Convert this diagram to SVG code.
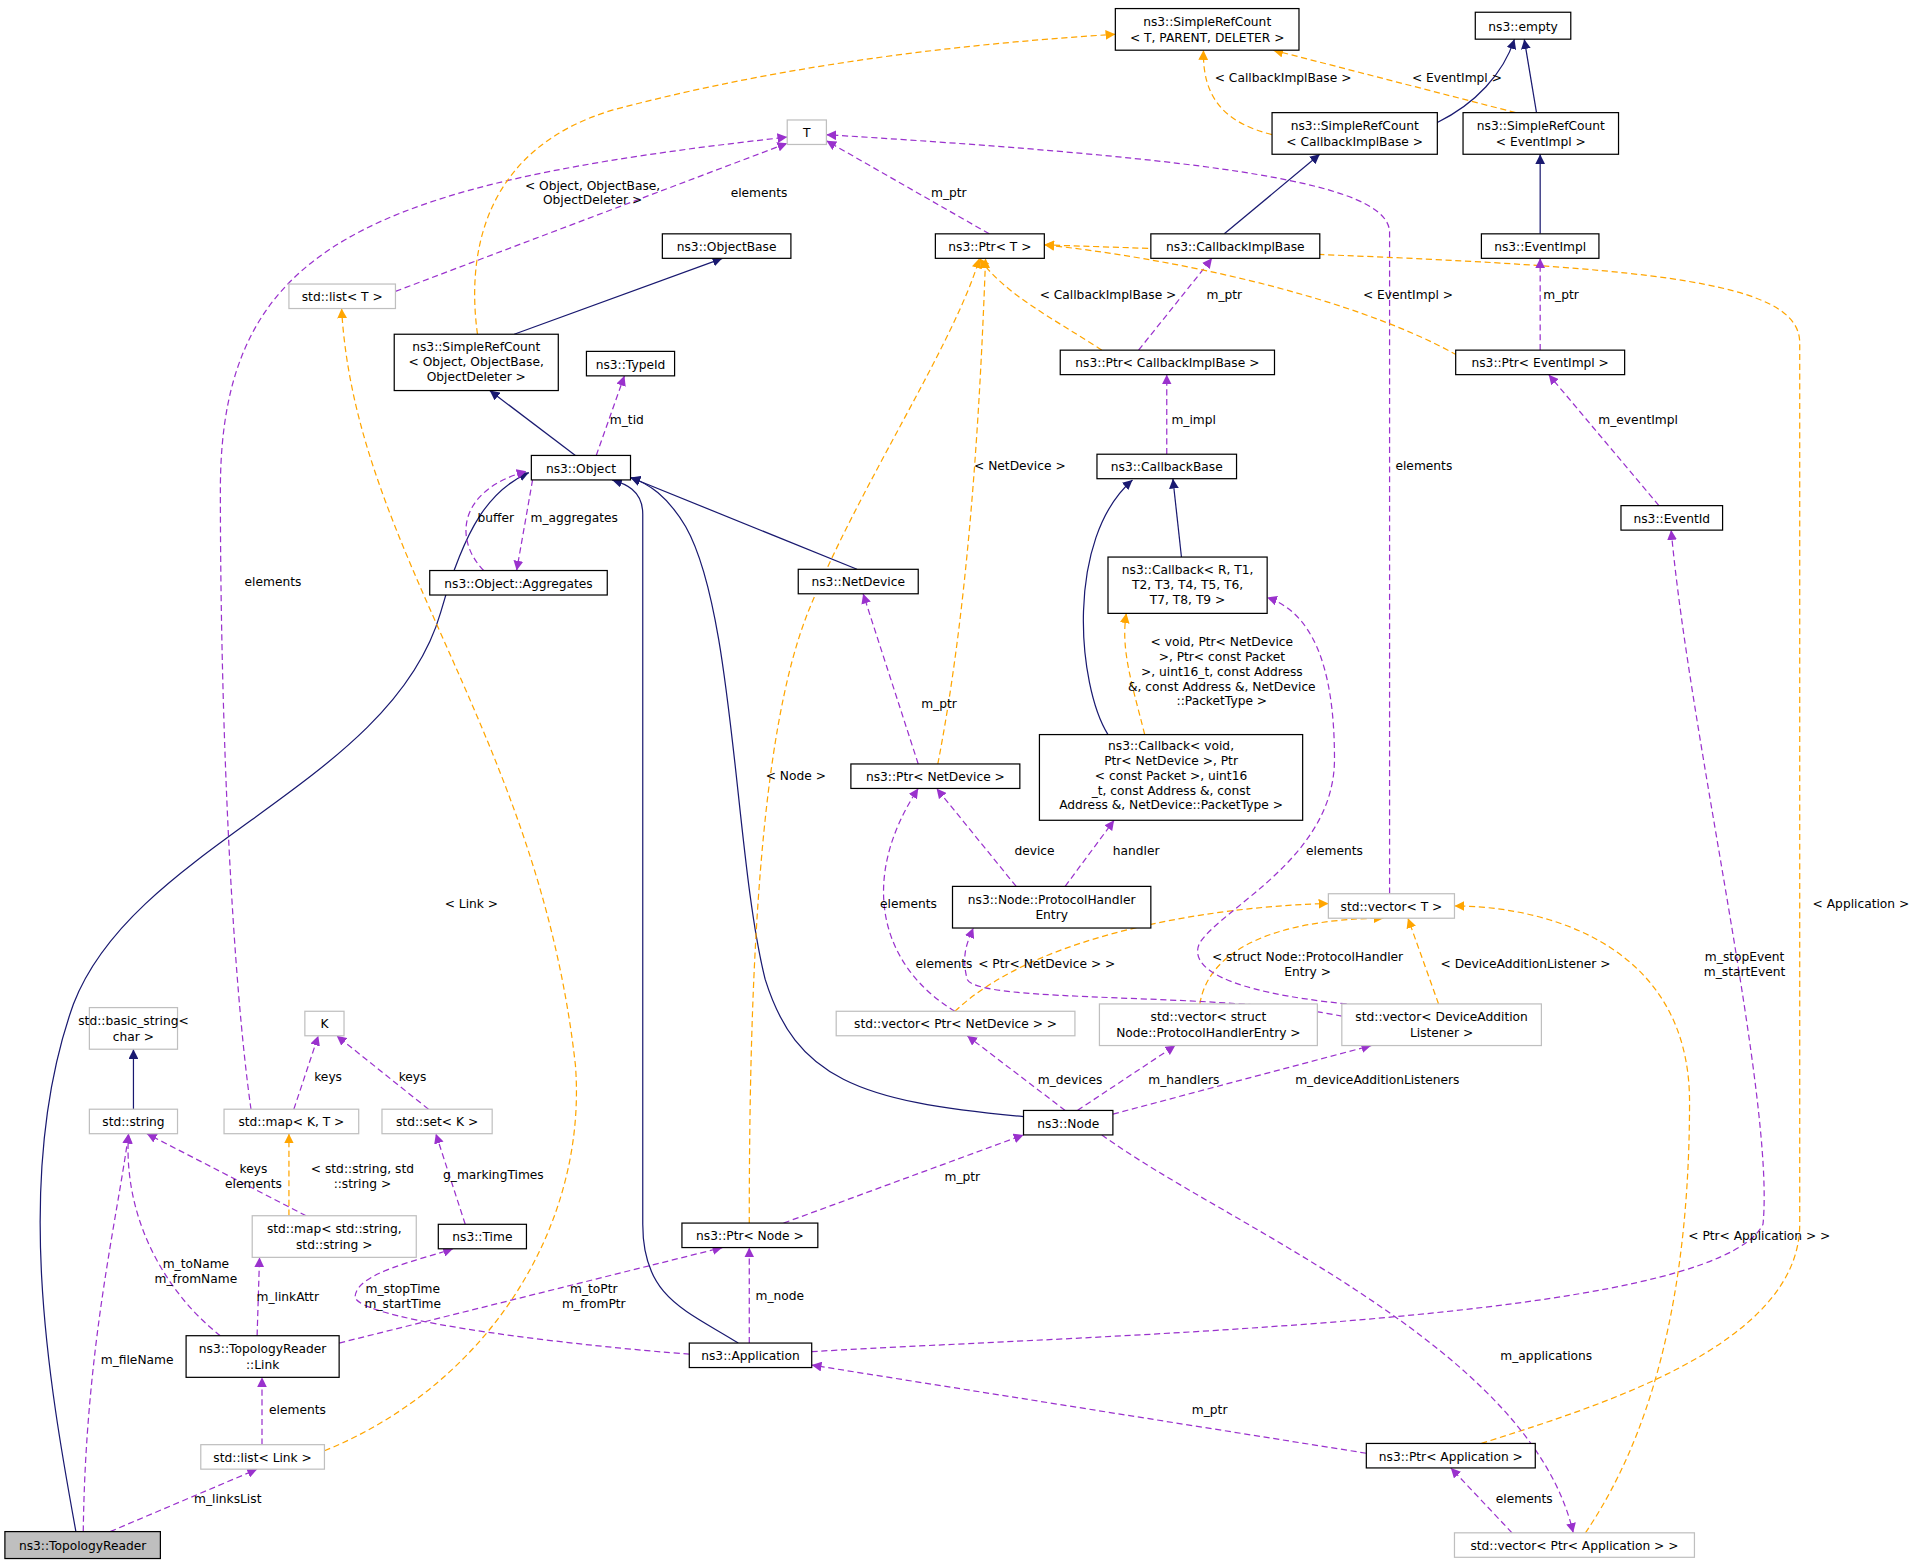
<svg xmlns="http://www.w3.org/2000/svg" width="1916" height="1563" viewBox="0 0 1916 1563">
<defs>
<marker id="an" viewBox="0 0 10 10" refX="10" refY="5" markerWidth="8" markerHeight="8" orient="auto-start-reverse" markerUnits="userSpaceOnUse"><path d="M0,0 L10,5 L0,10 z" fill="#191970"/></marker>
<marker id="ap" viewBox="0 0 10 10" refX="10" refY="5" markerWidth="8" markerHeight="8" orient="auto-start-reverse" markerUnits="userSpaceOnUse"><path d="M0,0 L10,5 L0,10 z" fill="#9a32cd"/></marker>
<marker id="ao" viewBox="0 0 10 10" refX="10" refY="5" markerWidth="8" markerHeight="8" orient="auto-start-reverse" markerUnits="userSpaceOnUse"><path d="M0,0 L10,5 L0,10 z" fill="#ffa500"/></marker>
</defs>
<style>
text{font-family:"DejaVu Sans","Liberation Sans",sans-serif;font-size:10px;fill:#000}
.nb rect{fill:#fff;stroke:#000;stroke-width:1}
.ng rect{fill:#fff;stroke:#bfbfbf;stroke-width:1}
.nt text{text-anchor:middle}
.n{fill:none;stroke:#191970;stroke-width:1;marker-end:url(#an)}
.p{fill:none;stroke:#9a32cd;stroke-width:1;stroke-dasharray:5,3;marker-end:url(#ap)}
.o{fill:none;stroke:#ffa500;stroke-width:1;stroke-dasharray:5,3;marker-end:url(#ao)}
.l text{text-anchor:middle}
</style>
<rect width="1916" height="1563" fill="#fff"/>
<g transform="scale(1.2243)">
<g id="edges">
<path class="n" d="M62,1251 C40,1130 10,960 60,820 C110,690 320,640 360,500 C380,430 400,400 432,386"/>
<path class="p" d="M68,1251 C70,1100 95,1000 105,926"/>
<path class="p" d="M90,1251 L210,1200"/>
<path class="p" d="M214,1180 L214,1125"/>
<path class="o" d="M265,1185 C400,1130 480,1000 470,870 C440,600 290,450 279,252"/>
<path class="p" d="M180,1091 C140,1060 100,1000 105,926"/>
<path class="p" d="M210,1091 L212,1027"/>
<path class="p" d="M277,1097 L590,1019"/>
<path class="o" d="M236,993 L236,926"/>
<path class="p" d="M250,993 L120,926"/>
<path class="n" d="M109,906 L109,857"/>
<path class="p" d="M240,906 L260,846"/>
<path class="p" d="M205,906 C190,800 180,600 180,400 C180,200 300,150 643,112"/>
<path class="p" d="M350,906 L275,846"/>
<path class="p" d="M563,1106 C480,1100 300,1080 290,1060 C290,1040 340,1030 370,1020"/>
<path class="p" d="M380,1000 L356,926"/>
<path class="n" d="M603,1097 C560,1070 525,1060 525,1000 L525,420 C525,400 510,395 500,392"/>
<path class="p" d="M612,1097 L612,1019"/>
<path class="p" d="M663,1104 C900,1090 1400,1080 1440,1000 C1450,900 1380,600 1365,433"/>
<path class="p" d="M1116,1187 L663,1115"/>
<path class="o" d="M1210,1179 C1300,1150 1470,1100 1470,1000 L1470,280 C1470,220 1300,215 853,200"/>
<path class="p" d="M1235,1252 L1185,1199"/>
<path class="o" d="M1295,1252 C1330,1200 1380,1100 1380,900 C1380,770 1260,740 1188,740"/>
<path class="p" d="M900,927 C1000,1000 1250,1100 1285,1252"/>
<path class="n" d="M836,912 C700,900 650,880 625,800 C600,700 600,500 560,430 C545,405 530,395 515,390"/>
<path class="p" d="M870,907 L790,846"/>
<path class="p" d="M880,907 L960,854"/>
<path class="p" d="M909,910 L1120,854"/>
<path class="p" d="M640,999 L836,927"/>
<path class="o" d="M612,999 C612,800 620,600 660,500 C700,400 780,280 800,211"/>
<path class="p" d="M780,826 C720,790 700,720 750,644"/>
<path class="o" d="M780,826 C850,760 1000,740 1085,738"/>
<path class="o" d="M980,820 C990,760 1080,750 1130,750"/>
<path class="o" d="M1175,820 L1150,750"/>
<path class="p" d="M1096,830 C1000,810 800,820 790,800 C785,780 790,770 795,758"/>
<path class="p" d="M1100,820 C1000,810 970,790 980,770 C1000,740 1090,700 1090,620 C1090,540 1070,500 1035,488"/>
<path class="p" d="M1135,730 L1135,190 C1135,150 1000,130 675,110"/>
<path class="p" d="M830,724 L765,644"/>
<path class="p" d="M870,724 L910,670"/>
<path class="o" d="M935,600 C925,560 915,530 920,501"/>
<path class="n" d="M905,600 C880,560 870,440 925,392"/>
<path class="n" d="M965,455 L958,391"/>
<path class="p" d="M953,371 L953,306"/>
<path class="p" d="M930,286 L990,211"/>
<path class="o" d="M900,286 C860,260 820,240 800,211"/>
<path class="n" d="M1000,191 L1078,126"/>
<path class="p" d="M1258,286 L1258,211"/>
<path class="o" d="M1190,290 C1100,240 950,210 853,200"/>
<path class="p" d="M1355,413 L1265,306"/>
<path class="n" d="M1258,191 L1258,126"/>
<path class="n" d="M1174,100 C1205,85 1228,60 1237,32"/>
<path class="n" d="M1255,92 L1245,32"/>
<path class="o" d="M1039,110 C1000,100 982,80 983,41"/>
<path class="o" d="M1238,92 L1040,41"/>
<path class="o" d="M390,273 C380,200 400,120 500,90 C650,50 800,35 911,28"/>
<path class="p" d="M808,191 L675,115"/>
<path class="p" d="M323,238 L643,117"/>
<path class="n" d="M470,372 L400,319"/>
<path class="p" d="M487,372 L510,307"/>
<path class="p" d="M435,392 L422,466"/>
<path class="p" d="M395,466 C370,440 375,400 430,385"/>
<path class="n" d="M700,465 L515,390"/>
<path class="p" d="M750,624 L705,485"/>
<path class="o" d="M766,624 C790,500 800,350 805,211"/>
<path class="n" d="M420,273 L590,211"/>
</g>
<g id="labels" class="l">
<text x="112" y="1114">m_fileName</text>
<text x="186" y="1228">m_linksList</text>
<text x="243" y="1155">elements</text>
<text x="385" y="742">&lt; Link &gt;</text>
<text x="160" y="1036">m_toName</text><text x="160" y="1048">m_fromName</text>
<text x="235" y="1063">m_linkAttr</text>
<text x="485" y="1056">m_toPtr</text><text x="485" y="1068">m_fromPtr</text>
<text x="296" y="958">&lt; std::string, std</text><text x="296" y="970">::string &gt;</text>
<text x="207" y="958">keys</text><text x="207" y="970">elements</text>
<text x="268" y="883">keys</text>
<text x="223" y="479">elements</text>
<text x="337" y="883">keys</text>
<text x="403" y="963">g_markingTimes</text>
<text x="329" y="1056">m_stopTime</text><text x="329" y="1068">m_startTime</text>
<text x="637" y="1062">m_node</text>
<text x="1425" y="785">m_stopEvent</text><text x="1425" y="797">m_startEvent</text>
<text x="988" y="1155">m_ptr</text>
<text x="1520" y="742">&lt; Application &gt;</text>
<text x="1245" y="1228">elements</text>
<text x="1437" y="1013">&lt; Ptr&lt; Application &gt; &gt;</text>
<text x="1263" y="1111">m_applications</text>
<text x="874" y="885">m_devices</text>
<text x="967" y="885">m_handlers</text>
<text x="1125" y="885">m_deviceAdditionListeners</text>
<text x="786" y="965">m_ptr</text>
<text x="650" y="637">&lt; Node &gt;</text>
<text x="742" y="742">elements</text>
<text x="855" y="791">&lt; Ptr&lt; NetDevice &gt; &gt;</text>
<text x="1068" y="785">&lt; struct Node::ProtocolHandler</text><text x="1068" y="797">Entry &gt;</text>
<text x="1246" y="791">&lt; DeviceAdditionListener &gt;</text>
<text x="771" y="791">elements</text>
<text x="1090" y="698">elements</text>
<text x="1163" y="384">elements</text>
<text x="845" y="698">device</text>
<text x="928" y="698">handler</text>
<text x="998" y="528">&lt; void, Ptr&lt; NetDevice</text><text x="998" y="540">&gt;, Ptr&lt; const Packet</text><text x="998" y="552">&gt;, uint16_t, const Address</text><text x="998" y="564">&amp;, const Address &amp;, NetDevice</text><text x="998" y="576">::PacketType &gt;</text>
<text x="975" y="346">m_impl</text>
<text x="1000" y="244">m_ptr</text>
<text x="905" y="244">&lt; CallbackImplBase &gt;</text>
<text x="1275" y="244">m_ptr</text>
<text x="1150" y="244">&lt; EventImpl &gt;</text>
<text x="1338" y="346">m_eventImpl</text>
<text x="1048" y="67">&lt; CallbackImplBase &gt;</text>
<text x="1190" y="67">&lt; EventImpl &gt;</text>
<text x="484" y="155">&lt; Object, ObjectBase,</text><text x="484" y="167">ObjectDeleter &gt;</text>
<text x="775" y="161">m_ptr</text>
<text x="620" y="161">elements</text>
<text x="512" y="346">m_tid</text>
<text x="469" y="426">m_aggregates</text>
<text x="405" y="426">buffer</text>
<text x="767" y="578">m_ptr</text>
<text x="833" y="384">&lt; NetDevice &gt;</text>
</g>
<g class="nt">
<g id="n_TopologyReader"><rect x="4" y="1251" width="127" height="22" fill="#bfbfbf" stroke="#000"/><text x="67.5" y="1266">ns3::TopologyReader</text></g>
<g id="n_listLink" class="ng"><rect x="164" y="1180" width="101" height="20"/><text x="214.5" y="1194">std::list&lt; Link &gt;</text></g>
<g id="n_Link" class="nb"><rect x="152" y="1091" width="125" height="34"/><text x="214.5" y="1105">ns3::TopologyReader</text><text x="214.5" y="1118">::Link</text></g>
<g id="n_mapSS" class="ng"><rect x="206" y="993" width="134" height="34"/><text x="273" y="1007">std::map&lt; std::string,</text><text x="273" y="1020">std::string &gt;</text></g>
<g id="n_string" class="ng"><rect x="73" y="906" width="72" height="20"/><text x="109" y="920">std::string</text></g>
<g id="n_basic" class="ng"><rect x="73" y="823" width="72" height="34"/><text x="109" y="837">std::basic_string&lt;</text><text x="109" y="850">char &gt;</text></g>
<g id="n_mapKT" class="ng"><rect x="183" y="906" width="110" height="20"/><text x="238" y="920">std::map&lt; K, T &gt;</text></g>
<g id="n_K" class="ng"><rect x="249" y="826" width="32" height="20"/><text x="265" y="840">K</text></g>
<g id="n_setK" class="ng"><rect x="312" y="906" width="90" height="20"/><text x="357" y="920">std::set&lt; K &gt;</text></g>
<g id="n_Time" class="nb"><rect x="358" y="1000" width="72" height="20"/><text x="394" y="1014">ns3::Time</text></g>
<g id="n_Application" class="nb"><rect x="563" y="1097" width="100" height="20"/><text x="613" y="1111">ns3::Application</text></g>
<g id="n_PtrNode" class="nb"><rect x="557" y="999" width="111" height="20"/><text x="612.5" y="1013">ns3::Ptr&lt; Node &gt;</text></g>
<g id="n_Node" class="nb"><rect x="836" y="907" width="73" height="20"/><text x="872.5" y="921">ns3::Node</text></g>
<g id="n_vecPND" class="ng"><rect x="683" y="826" width="195" height="20"/><text x="780.5" y="840">std::vector&lt; Ptr&lt; NetDevice &gt; &gt;</text></g>
<g id="n_vecPHE" class="ng"><rect x="898" y="820" width="178" height="34"/><text x="987" y="834">std::vector&lt; struct</text><text x="987" y="847">Node::ProtocolHandlerEntry &gt;</text></g>
<g id="n_vecDAL" class="ng"><rect x="1096" y="820" width="163" height="34"/><text x="1177.5" y="834">std::vector&lt; DeviceAddition</text><text x="1177.5" y="847">Listener &gt;</text></g>
<g id="n_vecT" class="ng"><rect x="1085" y="730" width="103" height="20"/><text x="1136.5" y="744">std::vector&lt; T &gt;</text></g>
<g id="n_PHE" class="nb"><rect x="778" y="724" width="162" height="34"/><text x="859" y="738">ns3::Node::ProtocolHandler</text><text x="859" y="751">Entry</text></g>
<g id="n_PtrND" class="nb"><rect x="695" y="624" width="138" height="20"/><text x="764" y="638">ns3::Ptr&lt; NetDevice &gt;</text></g>
<g id="n_CbVoid" class="nb"><rect x="849" y="600" width="215" height="70"/><text x="956.5" y="613">ns3::Callback&lt; void,</text><text x="956.5" y="625"> Ptr&lt; NetDevice &gt;, Ptr</text><text x="956.5" y="637">&lt; const Packet &gt;, uint16</text><text x="956.5" y="649">_t, const Address &amp;, const</text><text x="956.5" y="661"> Address &amp;, NetDevice::PacketType &gt;</text></g>
<g id="n_CbR" class="nb"><rect x="905" y="455" width="130" height="46"/><text x="970" y="469">ns3::Callback&lt; R, T1,</text><text x="970" y="481">T2, T3, T4, T5, T6,</text><text x="970" y="493">T7, T8, T9 &gt;</text></g>
<g id="n_CbBase" class="nb"><rect x="896" y="371" width="114" height="20"/><text x="953" y="385">ns3::CallbackBase</text></g>
<g id="n_PtrCIB" class="nb"><rect x="866" y="286" width="175" height="20"/><text x="953.5" y="300">ns3::Ptr&lt; CallbackImplBase &gt;</text></g>
<g id="n_CIB" class="nb"><rect x="940" y="191" width="138" height="20"/><text x="1009" y="205">ns3::CallbackImplBase</text></g>
<g id="n_PtrT" class="nb"><rect x="764" y="191" width="89" height="20"/><text x="808.5" y="205">ns3::Ptr&lt; T &gt;</text></g>
<g id="n_T" class="ng"><rect x="643" y="98" width="32" height="20"/><text x="659" y="112">T</text></g>
<g id="n_SRCT" class="nb"><rect x="911" y="7" width="150" height="34"/><text x="986" y="21">ns3::SimpleRefCount</text><text x="986" y="34">&lt; T, PARENT, DELETER &gt;</text></g>
<g id="n_empty" class="nb"><rect x="1205" y="10" width="78" height="22"/><text x="1244" y="25">ns3::empty</text></g>
<g id="n_SRCCIB" class="nb"><rect x="1039" y="92" width="135" height="34"/><text x="1106.5" y="106">ns3::SimpleRefCount</text><text x="1106.5" y="119">&lt; CallbackImplBase &gt;</text></g>
<g id="n_SRCEI" class="nb"><rect x="1195" y="92" width="127" height="34"/><text x="1258.5" y="106">ns3::SimpleRefCount</text><text x="1258.5" y="119">&lt; EventImpl &gt;</text></g>
<g id="n_EventImpl" class="nb"><rect x="1210" y="191" width="96" height="20"/><text x="1258" y="205">ns3::EventImpl</text></g>
<g id="n_PtrEI" class="nb"><rect x="1189" y="286" width="138" height="20"/><text x="1258" y="300">ns3::Ptr&lt; EventImpl &gt;</text></g>
<g id="n_EventId" class="nb"><rect x="1324" y="413" width="83" height="20"/><text x="1365.5" y="427">ns3::EventId</text></g>
<g id="n_PtrApp" class="nb"><rect x="1116" y="1179" width="138" height="20"/><text x="1185" y="1193">ns3::Ptr&lt; Application &gt;</text></g>
<g id="n_vecPApp" class="ng"><rect x="1188" y="1252" width="196" height="20"/><text x="1286" y="1266">std::vector&lt; Ptr&lt; Application &gt; &gt;</text></g>
<g id="n_NetDevice" class="nb"><rect x="652" y="465" width="98" height="20"/><text x="701" y="479">ns3::NetDevice</text></g>
<g id="n_Object" class="nb"><rect x="434" y="372" width="81" height="20"/><text x="474.5" y="386">ns3::Object</text></g>
<g id="n_Aggr" class="nb"><rect x="351" y="466" width="145" height="20"/><text x="423.5" y="480">ns3::Object::Aggregates</text></g>
<g id="n_TypeId" class="nb"><rect x="479" y="287" width="72" height="20"/><text x="515" y="301">ns3::TypeId</text></g>
<g id="n_SRCObj" class="nb"><rect x="322" y="273" width="134" height="46"/><text x="389" y="287">ns3::SimpleRefCount</text><text x="389" y="299">&lt; Object, ObjectBase,</text><text x="389" y="311"> ObjectDeleter &gt;</text></g>
<g id="n_ObjectBase" class="nb"><rect x="541" y="191" width="105" height="20"/><text x="593.5" y="205">ns3::ObjectBase</text></g>
<g id="n_listT" class="ng"><rect x="236" y="232" width="87" height="20"/><text x="279.5" y="246">std::list&lt; T &gt;</text></g>
</g>
</g>
</svg>
